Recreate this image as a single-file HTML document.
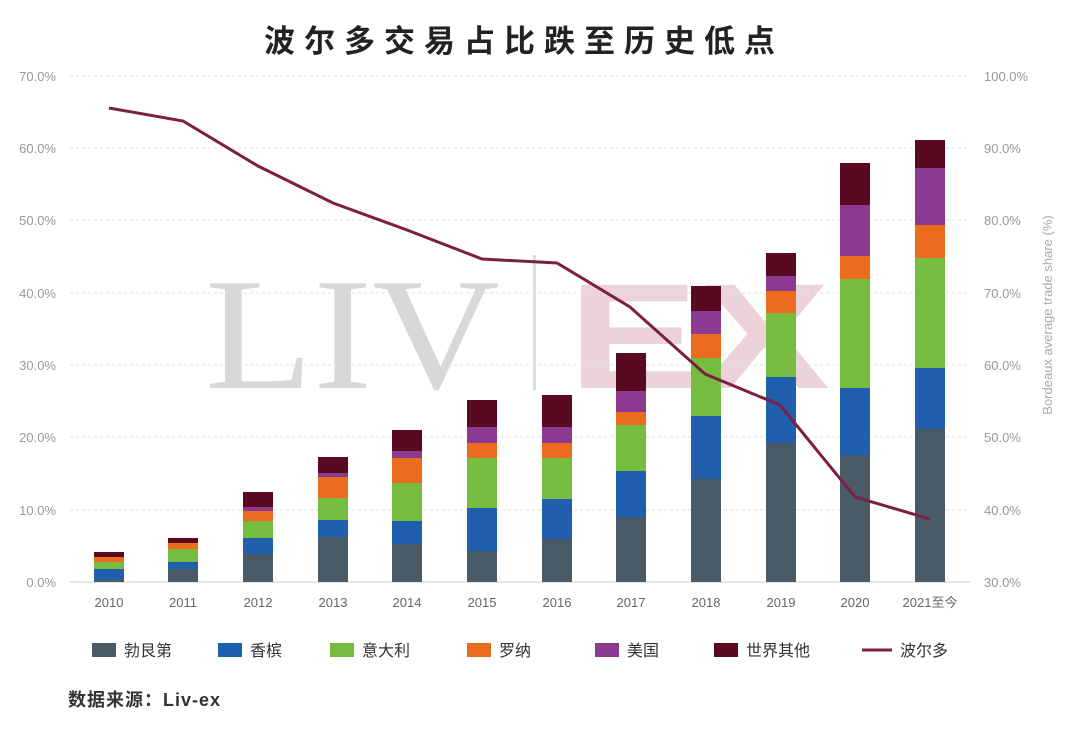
<!DOCTYPE html>
<html><head><meta charset="utf-8"><style>
body{margin:0;background:#fff;}
svg{display:block;font-family:"Liberation Sans","Noto Sans CJK SC",sans-serif;}
</style></head><body>
<svg width="1080" height="732" viewBox="0 0 1080 732">
<rect width="1080" height="732" fill="#fff"/>
<text x="524" y="52" text-anchor="middle" font-size="31" font-weight="bold" letter-spacing="9" fill="#222">波尔多交易占比跌至历史低点</text>
<!-- watermark -->
<text x="205" y="388" font-family="Liberation Serif,serif" font-size="160" fill="#d8d8d8" textLength="295" lengthAdjust="spacingAndGlyphs">LIV</text>
<rect x="533" y="255" width="3" height="135" fill="#ddd"/>
<text x="568" y="388" font-size="150" font-weight="bold" fill="#ecd3da" textLength="262" lengthAdjust="spacingAndGlyphs">EX</text>
<!-- grid -->
<g stroke="#e2e2e2" stroke-dasharray="3,3" stroke-width="1">
<line x1="70" x2="970" y1="76" y2="76"/><line x1="70" x2="970" y1="148" y2="148"/>
<line x1="70" x2="970" y1="220" y2="220"/><line x1="70" x2="970" y1="293" y2="293"/>
<line x1="70" x2="970" y1="365" y2="365"/><line x1="70" x2="970" y1="437" y2="437"/>
<line x1="70" x2="970" y1="510" y2="510"/>
</g>
<line x1="70" x2="970" y1="582" y2="582" stroke="#ccc"/>
<g font-size="13" fill="#999" text-anchor="end">
<text x="56" y="81">70.0%</text><text x="56" y="153">60.0%</text><text x="56" y="225">50.0%</text>
<text x="56" y="298">40.0%</text><text x="56" y="370">30.0%</text><text x="56" y="442">20.0%</text>
<text x="56" y="515">10.0%</text><text x="56" y="587">0.0%</text>
</g>
<g font-size="13" fill="#999">
<text x="984" y="81">100.0%</text><text x="984" y="153">90.0%</text><text x="984" y="225">80.0%</text>
<text x="984" y="298">70.0%</text><text x="984" y="370">60.0%</text><text x="984" y="442">50.0%</text>
<text x="984" y="515">40.0%</text><text x="984" y="587">30.0%</text>
</g>
<text transform="translate(1052,315) rotate(-90)" text-anchor="middle" font-size="13" fill="#aaa">Bordeaux average trade share (%)</text>
<g font-size="13" fill="#666" text-anchor="middle">
<text x="109" y="607">2010</text><text x="183" y="607">2011</text><text x="258" y="607">2012</text>
<text x="333" y="607">2013</text><text x="407" y="607">2014</text><text x="482" y="607">2015</text>
<text x="557" y="607">2016</text><text x="631" y="607">2017</text><text x="706" y="607">2018</text>
<text x="781" y="607">2019</text><text x="855" y="607">2020</text><text x="930" y="607">2021至今</text>
</g>
<g>
<!-- 2010 -->
<rect x="94" y="580" width="30" height="2" fill="#4a5a66"/><rect x="94" y="569" width="30" height="11" fill="#1f5fae"/><rect x="94" y="562" width="30" height="7" fill="#76bd3f"/><rect x="94" y="557" width="30" height="5" fill="#ec6c1d"/><rect x="94" y="552" width="30" height="5" fill="#5a0a20"/>
<!-- 2011 -->
<rect x="168" y="569" width="30" height="13" fill="#4a5a66"/><rect x="168" y="562" width="30" height="7" fill="#1f5fae"/><rect x="168" y="549" width="30" height="13" fill="#76bd3f"/><rect x="168" y="543" width="30" height="6" fill="#ec6c1d"/><rect x="168" y="538" width="30" height="5" fill="#5a0a20"/>
<!-- 2012 -->
<rect x="243" y="554" width="30" height="28" fill="#4a5a66"/><rect x="243" y="538" width="30" height="16" fill="#1f5fae"/><rect x="243" y="521" width="30" height="17" fill="#76bd3f"/><rect x="243" y="511" width="30" height="10" fill="#ec6c1d"/><rect x="243" y="507" width="30" height="4" fill="#8c3a8f"/><rect x="243" y="492" width="30" height="15" fill="#5a0a20"/>
<!-- 2013 -->
<rect x="318" y="537" width="30" height="45" fill="#4a5a66"/><rect x="318" y="520" width="30" height="17" fill="#1f5fae"/><rect x="318" y="498" width="30" height="22" fill="#76bd3f"/><rect x="318" y="477" width="30" height="21" fill="#ec6c1d"/><rect x="318" y="473" width="30" height="4" fill="#8c3a8f"/><rect x="318" y="457" width="30" height="16" fill="#5a0a20"/>
<!-- 2014 -->
<rect x="392" y="544" width="30" height="38" fill="#4a5a66"/><rect x="392" y="521" width="30" height="23" fill="#1f5fae"/><rect x="392" y="483" width="30" height="38" fill="#76bd3f"/><rect x="392" y="458" width="30" height="25" fill="#ec6c1d"/><rect x="392" y="451" width="30" height="7" fill="#8c3a8f"/><rect x="392" y="430" width="30" height="21" fill="#5a0a20"/>
<!-- 2015 -->
<rect x="467" y="551" width="30" height="31" fill="#4a5a66"/><rect x="467" y="508" width="30" height="43" fill="#1f5fae"/><rect x="467" y="458" width="30" height="50" fill="#76bd3f"/><rect x="467" y="443" width="30" height="15" fill="#ec6c1d"/><rect x="467" y="427" width="30" height="16" fill="#8c3a8f"/><rect x="467" y="400" width="30" height="27" fill="#5a0a20"/>
<!-- 2016 -->
<rect x="542" y="539" width="30" height="43" fill="#4a5a66"/><rect x="542" y="499" width="30" height="40" fill="#1f5fae"/><rect x="542" y="458" width="30" height="41" fill="#76bd3f"/><rect x="542" y="443" width="30" height="15" fill="#ec6c1d"/><rect x="542" y="427" width="30" height="16" fill="#8c3a8f"/><rect x="542" y="395" width="30" height="32" fill="#5a0a20"/>
<!-- 2017 -->
<rect x="616" y="517" width="30" height="65" fill="#4a5a66"/><rect x="616" y="471" width="30" height="46" fill="#1f5fae"/><rect x="616" y="425" width="30" height="46" fill="#76bd3f"/><rect x="616" y="412" width="30" height="13" fill="#ec6c1d"/><rect x="616" y="391" width="30" height="21" fill="#8c3a8f"/><rect x="616" y="353" width="30" height="38" fill="#5a0a20"/>
<!-- 2018 -->
<rect x="691" y="479" width="30" height="103" fill="#4a5a66"/><rect x="691" y="416" width="30" height="63" fill="#1f5fae"/><rect x="691" y="358" width="30" height="58" fill="#76bd3f"/><rect x="691" y="334" width="30" height="24" fill="#ec6c1d"/><rect x="691" y="311" width="30" height="23" fill="#8c3a8f"/><rect x="691" y="286" width="30" height="25" fill="#5a0a20"/>
<!-- 2019 -->
<rect x="766" y="443" width="30" height="139" fill="#4a5a66"/><rect x="766" y="377" width="30" height="66" fill="#1f5fae"/><rect x="766" y="313" width="30" height="64" fill="#76bd3f"/><rect x="766" y="291" width="30" height="22" fill="#ec6c1d"/><rect x="766" y="276" width="30" height="15" fill="#8c3a8f"/><rect x="766" y="253" width="30" height="23" fill="#5a0a20"/>
<!-- 2020 -->
<rect x="840" y="455" width="30" height="127" fill="#4a5a66"/><rect x="840" y="388" width="30" height="67" fill="#1f5fae"/><rect x="840" y="279" width="30" height="109" fill="#76bd3f"/><rect x="840" y="256" width="30" height="23" fill="#ec6c1d"/><rect x="840" y="205" width="30" height="51" fill="#8c3a8f"/><rect x="840" y="163" width="30" height="42" fill="#5a0a20"/>
<!-- 2021 -->
<rect x="915" y="429" width="30" height="153" fill="#4a5a66"/><rect x="915" y="368" width="30" height="61" fill="#1f5fae"/><rect x="915" y="258" width="30" height="110" fill="#76bd3f"/><rect x="915" y="225" width="30" height="33" fill="#ec6c1d"/><rect x="915" y="168" width="30" height="57" fill="#8c3a8f"/><rect x="915" y="140" width="30" height="28" fill="#5a0a20"/>
</g>
<polyline fill="none" stroke="#7b2044" stroke-width="3" points="109,108 183,121 258,166 333,203 407,230 482,259 557,263 630,307 705,374 780,405 855,497 930,519"/>
<!-- legend -->
<g font-size="16" fill="#333">
<rect x="92" y="643" width="24" height="14" fill="#4a5a66"/><text x="124" y="656">勃艮第</text>
<rect x="218" y="643" width="24" height="14" fill="#1f5fae"/><text x="250" y="656">香槟</text>
<rect x="330" y="643" width="24" height="14" fill="#76bd3f"/><text x="362" y="656">意大利</text>
<rect x="467" y="643" width="24" height="14" fill="#ec6c1d"/><text x="499" y="656">罗纳</text>
<rect x="595" y="643" width="24" height="14" fill="#8c3a8f"/><text x="627" y="656">美国</text>
<rect x="714" y="643" width="24" height="14" fill="#5a0a20"/><text x="746" y="656">世界其他</text>
<line x1="862" x2="892" y1="650" y2="650" stroke="#7b2044" stroke-width="3"/><text x="900" y="656">波尔多</text>
</g>
<text x="68" y="706" font-size="18" font-weight="bold" fill="#333" letter-spacing="1">数据来源：Liv-ex</text>
</svg>
</body></html>
